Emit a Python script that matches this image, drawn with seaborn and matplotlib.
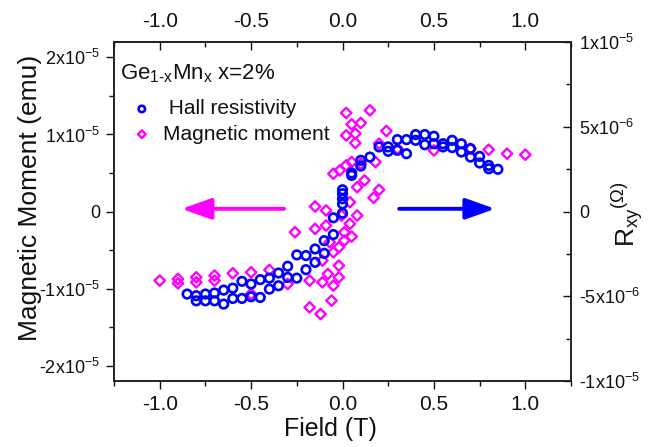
"""Hall resistivity and magnetic moment of Ge(1-x)Mn(x) vs field, two y axes."""
import numpy as np
import pandas as pd
import seaborn as sns
import matplotlib.pyplot as plt
from matplotlib.ticker import MultipleLocator, FixedLocator, FixedFormatter

# Hall resistivity (right axis), R_xy in 1e-6 Ohm
hall_field = [-0.85, -0.80, -0.80, -0.75, -0.75, -0.70, -0.70, -0.65, -0.65, -0.60,
              -0.60, -0.55, -0.55, -0.50, -0.50, -0.45, -0.45, -0.40, -0.40, -0.35,
              -0.35, -0.30, -0.30, -0.25, -0.25, -0.20, -0.20, -0.15, -0.15, -0.10,
              -0.10, -0.05, -0.05, 0.0, 0.0, 0.0, 0.0, 0.0, 0.05, 0.05,
              0.10, 0.10, 0.15, 0.20, 0.25, 0.25, 0.30, 0.30, 0.35, 0.35,
              0.40, 0.40, 0.45, 0.45, 0.50, 0.50, 0.55, 0.55, 0.60, 0.60,
              0.65, 0.65, 0.70, 0.70, 0.75, 0.75, 0.80, 0.80, 0.85]
hall_r = [-4.87, -4.97, -5.27, -4.87, -5.27, -4.81, -5.27, -4.64, -5.46, -4.52,
          -5.13, -4.12, -5.13, -4.28, -5.03, -4.02, -5.07, -3.93, -4.58, -3.63,
          -4.38, -3.23, -3.89, -2.56, -3.93, -2.60, -3.43, -2.21, -3.00, -1.72,
          -2.47, -0.37, -1.36, -0.10, 0.45, 0.75, 1.05, 1.28, 2.13, 2.27,
          2.68, 3.02, 3.21, 3.81, 3.81, 3.55, 4.24, 3.61, 4.24, 3.41,
          4.54, 4.20, 4.54, 3.94, 4.44, 4.00, 4.00, 3.81, 4.20, 3.77,
          4.00, 3.51, 3.71, 3.21, 3.25, 2.86, 2.72, 2.52, 2.49]

# Magnetic moment (left axis), in 1e-6 emu
mag_field = [-1.00, -0.90, -0.90, -0.80, -0.80, -0.70, -0.70, -0.60, -0.50, -0.50,
             -0.40, -0.30, -0.26, -0.18, -0.18, -0.12, -0.15, -0.15, -0.09, -0.09,
             -0.11, -0.11, -0.08, -0.07, -0.06, -0.05, -0.05, -0.05, -0.02, -0.02,
             -0.02, -0.015, -0.005, 0.01, 0.01, 0.02, 0.02, 0.02, 0.04, 0.04,
             0.05, 0.05, 0.05, 0.07, 0.07, 0.08, 0.08, 0.10, 0.10, 0.12,
             0.15, 0.17, 0.18, 0.20, 0.20, 0.24, 0.30, 0.50, 0.70, 0.80,
             0.90, 1.00]
mag_m = [-8.97, -8.76, -9.32, -8.54, -9.19, -8.32, -8.97, -8.02, -7.89, -10.71,
         -7.59, -9.41, -2.69, -8.97, -12.44, -13.31, 0.65, -2.25, 0.13, -1.82,
         -6.37, -9.19, -8.11, -3.99, -11.57, 4.90, -5.29, -9.62, -4.64, -7.02,
         -8.54, 5.33, -0.52, -2.69, -3.77, 9.88, 12.79, 5.98, 1.21, -1.60,
         11.31, 6.42, -3.25, 10.10, 8.89, 3.16, -0.52, 6.20, 11.49, 4.03,
         13.13, 1.78, 6.42, 2.82, 8.80, 10.45, 8.15, 7.93, 8.15, 8.02,
         7.50, 7.37]

field_ticks = [-1.0, -0.5, 0.0, 0.5, 1.0]
left_ticks = [-2e-5, -1e-5, 0, 1e-5, 2e-5]
left_labels = [r'-2x10$^{-5}$', r'-1x10$^{-5}$', '0', r'1x10$^{-5}$', r'2x10$^{-5}$']
right_ticks = [-1e-5, -5e-6, 0, 5e-6, 1e-5]
right_labels = [r'-1x10$^{-5}$', r'-5x10$^{-6}$', '0', r'5x10$^{-6}$', r'1x10$^{-5}$']

BLUE = '#0000ff'
MAGENTA = '#ff00ff'
INK = '#111111'

sns.set_style("ticks")
plt.rcParams['font.family'] = ['Liberation Sans', 'DejaVu Sans']
plt.rcParams['mathtext.fontset'] = 'custom'
plt.rcParams['mathtext.rm'] = 'Liberation Sans'
plt.rcParams['mathtext.it'] = 'Liberation Sans:italic'
plt.rcParams['mathtext.default'] = 'regular'
for key in ('text.color', 'axes.labelcolor', 'xtick.color', 'ytick.color'):
    plt.rcParams[key] = INK

df_hall = pd.DataFrame({'field': hall_field, 'r': np.array(hall_r) * 1e-6})
df_mag = pd.DataFrame({'field': mag_field, 'm': np.array(mag_m) * 1e-6})

fig = plt.figure(figsize=(6.52, 4.47), dpi=100)
ax = fig.add_axes([114 / 652, 1 - 381 / 447, 457 / 652, 339 / 447])
ax2 = ax.twinx()

sns.scatterplot(data=df_mag, x='field', y='m', ax=ax, marker='D', s=28,
                color=MAGENTA, facecolor='none', edgecolor=MAGENTA, linewidth=1.7,
                label='Magnetic moment', legend=False, zorder=3)
sns.scatterplot(data=df_hall, x='field', y='r', ax=ax2, marker='o', s=38,
                color=BLUE, facecolor='none', edgecolor=BLUE, linewidth=1.9,
                label=' Hall resistivity', legend=False, zorder=3)

ax.set_xlim(-1.25, 1.25)
ax.set_ylim(-2.2e-5, 2.2e-5)
ax2.set_ylim(-1e-5, 1e-5)

# arrows pointing to the axis each series belongs to
arrow_style = '-|>,head_length=0.9,head_width=0.32'
ax.annotate('', xy=(-0.88, 3.5e-7), xytext=(-0.32, 3.5e-7),
            arrowprops=dict(arrowstyle=arrow_style, lw=2.8, color=MAGENTA,
                            mutation_scale=20, shrinkA=0, shrinkB=0))
ax.annotate('', xy=(0.835, 3.5e-7), xytext=(0.31, 3.5e-7),
            arrowprops=dict(arrowstyle=arrow_style, lw=2.8, color=BLUE,
                            mutation_scale=20, shrinkA=0, shrinkB=0))

# x axis: bottom out, top in, both labelled
ax.xaxis.set_major_locator(FixedLocator(field_ticks))
ax.xaxis.set_major_formatter(FixedFormatter(['%.1f' % t for t in field_ticks]))
ax.xaxis.set_minor_locator(MultipleLocator(0.25))
ax.tick_params(axis='x', which='both', bottom=True, top=False, direction='out',
               labelsize=15, pad=4)
ax.tick_params(axis='x', which='major', length=6, width=1)
ax.tick_params(axis='x', which='minor', length=3.5, width=1)
top = ax.secondary_xaxis('top')
top.set_xticks(field_ticks)
top.set_xticklabels(['%.1f' % t for t in field_ticks])
top.xaxis.set_minor_locator(MultipleLocator(0.25))
top.tick_params(axis='x', which='both', direction='in', labelsize=15, pad=8)
top.tick_params(axis='x', which='major', length=6, width=1)
top.tick_params(axis='x', which='minor', length=3.5, width=1)

# left y axis
ax.yaxis.set_major_locator(FixedLocator(left_ticks))
ax.yaxis.set_major_formatter(FixedFormatter(left_labels))
ax.yaxis.set_minor_locator(MultipleLocator(5e-6))
ax.tick_params(axis='y', which='both', direction='out', labelsize=13, pad=4)
ax.tick_params(axis='y', which='major', length=6, width=1)
ax.tick_params(axis='y', which='minor', length=3.5, width=1)

# right y axis
ax2.yaxis.set_major_locator(FixedLocator(right_ticks))
ax2.yaxis.set_major_formatter(FixedFormatter(right_labels))
ax2.yaxis.set_minor_locator(MultipleLocator(2.5e-6))
ax2.tick_params(axis='y', which='both', direction='in', labelsize=13, pad=6)
ax2.tick_params(axis='y', which='major', length=6, width=1)
ax2.tick_params(axis='y', which='minor', length=3.5, width=1)

for a in (ax, ax2):
    for sp in a.spines.values():
        sp.set_visible(True)
        sp.set_linewidth(1.2)
        sp.set_color('#222222')
top.spines['top'].set_linewidth(1.2)
top.spines['top'].set_color('#222222')

ax.set_xlabel('')
ax.set_ylabel('')
ax2.set_ylabel('')
fig.text(330 / 652, 1 - 429 / 447, 'Field (T)', ha='center', va='center', fontsize=18)
fig.text(30 / 652, 1 - 198 / 447, 'Magnetic Moment (emu)', ha='center', va='center',
         rotation=90, fontsize=19)
fig.text(627 / 652, 1 - 214 / 447, r'R$_{xy}$$^{(\Omega)}$', ha='center', va='center',
         rotation=90, fontsize=19)
fig.text(120 / 652, 1 - 74 / 447, r'Ge$_{\text{1-x}}$Mn$_{x}$ x=2%', ha='left',
         va='center', fontsize=16)

h1, l1 = ax2.get_legend_handles_labels()
h2, l2 = ax.get_legend_handles_labels()
leg = ax2.legend(h1 + h2, l1 + l2, loc='upper left', frameon=False, fontsize=15,
                 bbox_to_anchor=(121 / 652, 1 - 89 / 447), bbox_transform=fig.transFigure,
                 markerscale=0.75, handletextpad=0.5, labelspacing=0.3,
                 handlelength=1.0, borderpad=0)

fig.savefig('out.png', dpi=100)
